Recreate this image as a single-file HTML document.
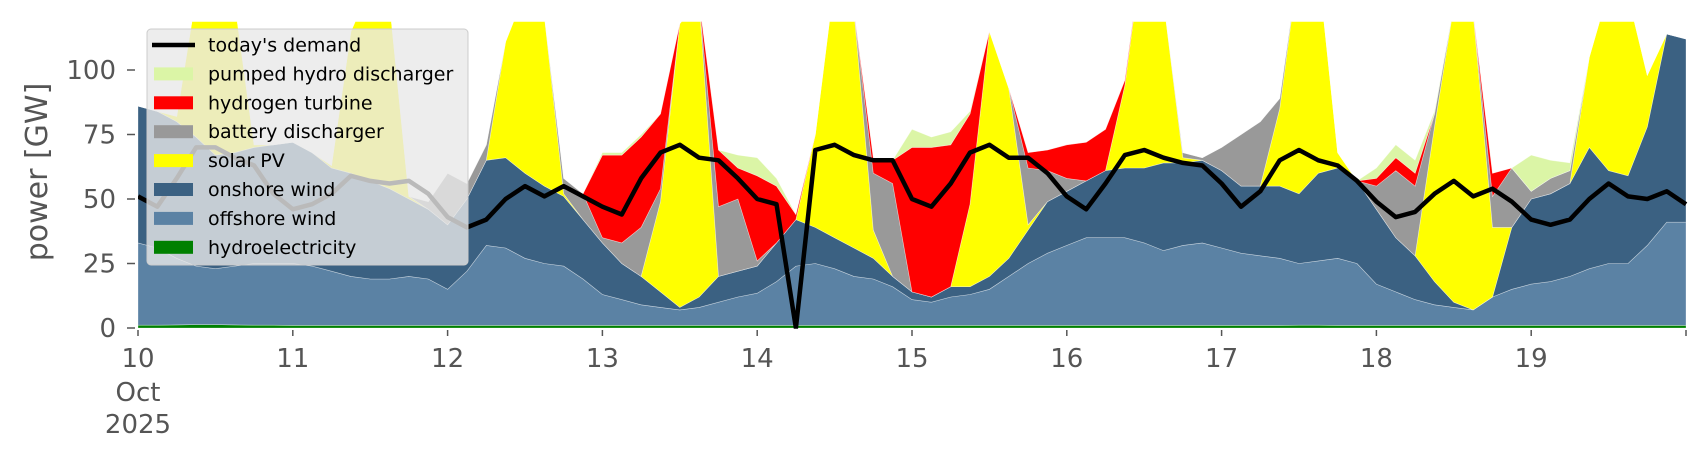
<!DOCTYPE html>
<html><head><meta charset="utf-8"><style>
body{margin:0;background:#fff;}
svg{display:block;font-family:"DejaVu Sans","Liberation Sans",sans-serif;}
</style></head><body>
<svg id="chart" width="1706" height="460" viewBox="0 0 1706 460" xmlns="http://www.w3.org/2000/svg">
<defs><clipPath id="plotclip"><rect x="138" y="21.7" width="1550" height="307"/></clipPath></defs>
<g id="areas" clip-path="url(#plotclip)"></g>
<g id="demand" clip-path="url(#plotclip)"></g>
<g id="axes"></g>
<g id="legend"></g>
</svg>
<script>
const days=[10,11,12,13,14,15,16,17,18,19,20];
const dayLabels=["10","11","12","13","14","15","16","17","18","19",""];
const yTicks=[0,25,50,75,100];
const hydro=[1.1,1.1,1.2,1.3,1.3,1.2,1.1,1.1,1,1,1,1,1,1,1,1,1,1,1,1,1,1,1,1,1,1,1,1,1,1,1,1,1,1,1,1,1,1,1,1,1,1,1,1,1,1,1,1,1,1,1,1,1,1,1,1,1,1,1,1,1.1,1.1,1,1,1,1,1,1,1,1,1,1,1,1,1,1,1,1,1,1,1];
const offshoreTop=[33,31,27,24,23,24,25,25,25,24,22,20,19,19,20,19,15,22,32,31,27,25,24,19,13,11,9,8,7,8,10,12,13.5,18,24,25,23,20,19,16,11,10,12,13,15,20,25,29,32,35,35,35,33,30,32,33,31,29,28,27,25,26,27,25,17,14,11,9,8,7,12,15,17,18,20,23,25,25,32,41,41];
const onshoreTop=[86,84,80,74,67,68,70,71,72,68,62,60,57,54,50,46,40,50,65,66,60,55,51,42,33,25,20,14,8,12,20,22,24,33,42,39,35,31,27,20,14,12,16,16,20,27,38,49,53,57,61,62,62,64,64,65,61,55,55,55,52,60,62,57,46,35,28,18,10,7,12,39,50,52,56,70,61,59,78,114,112];
const solar=[0,0,2,55,70,58,1,0,0,0,1,55,75,72,1,0,0,0,0,45,70,66,1,0,0,0,0,35,110,115,0,0,0,0,0,36,100,92,11,0,0,0,0,32,95,66,2,0,0,0,0,32,90,63,2,0,0,0,0,30,90,80,6,0,0,0,0,60,115,115,27,0,0,0,0,35,70,70,20,0,0];
const battery=[0,0,0,0,0,0,0,0,0,0,0,0,0,0,0,3,20,6,6,0,0,0,6,10,2,8,19,5,0,0,27,28,2,0,0,0,0,0,22,36,0,0,0,0,0,0,22,12,5,0,0,0,0,0,2,1,9,20,25,4,0,0,0,0,9,26,27,5,0,0,12,23,3,6,5,0,0,0,0,0,0];
const hydrogen=[0,0,0,0,0,0,0,0,0,0,0,0,0,0,0,0,0,0,0,0,0,0,0,0,32,34,35,29,0,0,22,12,33,22,2,0,0,0,6,9,56,58,55,35,0,0,6,8,13,15,16,2,0,0,0,0,0,0,0,0,0,0,0,0,3,5,5,0,0,0,9,0,0,0,0,0,0,0,0,0,0];
const pumped=[0,0,0,0,0,0,0,0,0,0,0,0,0,0,0,0,0,0,0,0,0,0,0,0,1,1,1,0,0,0,0,5,7,3,0,0,0,0,0,0,7,4,5,1,0,0,0,0,0,0,0,0,0,0,0,0,0,0,0,0,0,0,0,0,4,5,5,1,0,0,0,0,14,7,3,0,0,0,0,0,0];
const demand=[51,47,58,70,70,66,63,52,46,48,52,59,57,56,57,52,43,39,42,50,55,51,55,51,47,44,58,68,71,66,65,58,50,48,0,69,71,67,65,65,50,47,56,68,71,66,66,60,51,46,56,67,69,66,64,63,56,47,53,65,69,65,63,57,49,43,45,52,57,51,54,49,42,40,42,50,56,51,50,53,48];

const X0=138,X1=1686,Y0=328,PXG=2.58;
function xs(d){return X0+(d-10)*(X1-X0)/10;}
function ys(v){return Y0-v*PXG;}
function tday(i){return 10+i/8;}
const NS="http://www.w3.org/2000/svg";
function mk(tag,attrs,parent){const e=document.createElementNS(NS,tag);for(const k in attrs)e.setAttribute(k,attrs[k]);parent.appendChild(e);return e;}

const n=demand.length;
const offshore=offshoreTop.map((v,i)=>Math.max(0,v-hydro[i]));
const onshore=onshoreTop.map((v,i)=>Math.max(0,v-offshoreTop[i]));
const layers=[
 {name:"hydroelectricity",vals:hydro,col:"#008000"},
 {name:"offshore-wind",vals:offshore,col:"#5b82a4"},
 {name:"onshore-wind",vals:onshore,col:"#3b6182"},
 {name:"solar-pv",vals:solar,col:"#ffff00"},
 {name:"battery-discharger",vals:battery,col:"#999999"},
 {name:"hydrogen-turbine",vals:hydrogen,col:"#ff0000"},
 {name:"pumped-hydro-discharger",vals:pumped,col:"#dbf5a6"}
];
const areasG=document.getElementById('areas');
let base=new Array(n).fill(0);
layers.forEach(L=>{
  const top=base.map((b,i)=>b+L.vals[i]);
  let d="";
  for(let i=0;i<n;i++)d+=(i?"L":"M")+xs(tday(i)).toFixed(1)+","+ys(top[i]).toFixed(1);
  for(let i=n-1;i>=0;i--)d+="L"+xs(tday(i)).toFixed(1)+","+ys(base[i]).toFixed(1);
  d+="Z";
  const p=mk('path',{d:d,fill:L.col,stroke:"#ffffff","stroke-opacity":"0.5","stroke-width":"0.6"},areasG);
  
  
  base=top;
});
const dg=document.getElementById('demand');
let dd="";
for(let i=0;i<n;i++)dd+=(i?"L":"M")+xs(tday(i)).toFixed(1)+","+ys(demand[i]).toFixed(1);
const dl=mk('path',{d:dd,fill:"none",stroke:"#000","stroke-width":"4.5","stroke-linejoin":"round"},dg);



const ax=document.getElementById('axes');
yTicks.forEach(v=>{
  const l=mk('line',{x1:127,x2:135,y1:ys(v),y2:ys(v),stroke:"#555","stroke-width":"1.5"},ax);
  
  
  const t=mk('text',{x:116,y:ys(v)+9,"text-anchor":"end","font-size":"26",fill:"#555"},ax);
  
  
  t.textContent=String(v);
});
days.forEach((d,i)=>{
  const l=mk('line',{x1:xs(d),x2:xs(d),y1:330,y2:336,stroke:"#555","stroke-width":"1.5"},ax);
  
  
  if(dayLabels[i]){
    const t=mk('text',{x:xs(d),y:367,"text-anchor":"middle","font-size":"26",fill:"#555"},ax);
    
    
    t.textContent=dayLabels[i];
  }
});
const m1=mk('text',{x:xs(10),y:401,"text-anchor":"middle","font-size":"26",fill:"#555"},ax);


m1.textContent="Oct";
const m2=mk('text',{x:xs(10),y:433,"text-anchor":"middle","font-size":"26",fill:"#555"},ax);


m2.textContent="2025";
const yt=mk('text',{x:0,y:0,"text-anchor":"middle","font-size":"30",fill:"#555",transform:"translate(47,172) rotate(-90)"},ax);


yt.textContent="power [GW]";

const lg=document.getElementById('legend');
const lb=mk('rect',{x:147,y:29,width:321,height:236,rx:4,fill:"#e8e8e8","fill-opacity":"0.8",stroke:"#cccccc","stroke-width":"1"},lg);


const entries=[["today's demand","line","#000"],["pumped hydro discharger","rect","#dbf5a6"],["hydrogen turbine","rect","#ff0000"],["battery discharger","rect","#999999"],["solar PV","rect","#ffff00"],["onshore wind","rect","#3b6182"],["offshore wind","rect","#5b82a4"],["hydroelectricity","rect","#008000"]];
entries.forEach((e,i)=>{
  const cy=45+i*28.9;
  const g=mk('g',{},lg);
  
  
  if(e[1]=="line")mk('line',{x1:152,x2:195,y1:cy,y2:cy,stroke:e[2],"stroke-width":"4.5"},g);
  else mk('rect',{x:154,y:cy-6.5,width:39,height:13,fill:e[2]},g);
  const t=mk('text',{x:208,y:cy+6.5,"font-size":"19",fill:"#000"},g);
  t.textContent=e[0];
});
</script>
</body></html>
